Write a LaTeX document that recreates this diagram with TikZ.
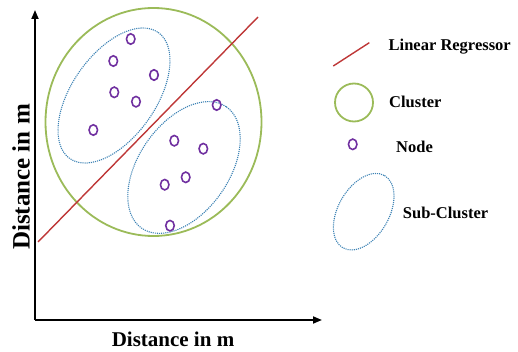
\documentclass[tikz,border=0pt]{standalone}
\usepackage{fontspec}
\setmainfont{Liberation Serif}
\usetikzlibrary{arrows.meta,shapes.geometric}
\definecolor{clgreen}{RGB}{155,187,89}
\definecolor{regred}{RGB}{190,55,55}
\definecolor{ptpurple}{RGB}{112,48,160}
\definecolor{subblue}{RGB}{60,130,180}
\tikzset{
  axis/.style={line width=1.8pt,-{Triangle[length=9pt,width=7pt]}},
  regline/.style={regred,line width=1.4pt},
  clusterc/.style={clgreen,line width=1.8pt},
  pt/.style={draw=ptpurple,ellipse,line width=1.6pt,minimum width=8.5pt,minimum height=10.5pt,inner sep=0pt},
  subc/.style={subblue,line width=1.1pt,densely dotted},
  lbl/.style={font=\bfseries\fontsize{16.5}{18}\selectfont,anchor=west,inner sep=0pt},
}
\begin{document}
\begin{tikzpicture}[x=1pt,y=-1pt]
\useasboundingbox (0,0) rectangle (518,352);
% axes
\coordinate (O) at (35,320);
\coordinate (Ytop) at (35,10);
\coordinate (Xend) at (322,320);
\draw[axis] (O) -- (Ytop);
\draw[axis] (O) -- (Xend);
\node[font=\bfseries\fontsize{21}{23}\selectfont,inner sep=0pt] (xl) at (173,339) {Distance in m};
\node[font=\bfseries\fontsize{25}{27}\selectfont,inner sep=0pt,rotate=90] (yl) at (21,177) {Distance in m};
% cluster
\draw[clusterc] (153.5,122) ellipse [x radius=108, y radius=114];
% sub-clusters
\draw[subc] (114,95.5) ellipse [x radius=77, y radius=42, rotate=55];
\draw[subc] (184,167.5) ellipse [x radius=74, y radius=45, rotate=55];
% regression line
\coordinate (r1) at (38,242);
\coordinate (r2) at (258,17);
\draw[regline] (r1) -- (r2);
% nodes
\node[pt] (p1) at (130.7,39) {};
\node[pt] (p2) at (113.3,61) {};
\node[pt] (p3) at (154,75) {};
\node[pt] (p4) at (114.3,92.3) {};
\node[pt] (p5) at (136,101.7) {};
\node[pt] (p6) at (93.3,130) {};
\node[pt] (q1) at (216.7,105) {};
\node[pt] (q2) at (174.3,140.7) {};
\node[pt] (q3) at (203.3,148.7) {};
\node[pt] (q4) at (185.7,177.3) {};
\node[pt] (q5) at (164.7,184.7) {};
\node[pt] (q6) at (170,225.7) {};
% legend
\coordinate (l1) at (333.3,66);
\coordinate (l2) at (369.3,42.7);
\draw[regline] (l1) -- (l2);
\node[lbl] (t1) at (388.5,46.5) {Linear Regressor};
\draw[clusterc] (354,102.5) circle [radius=19];
\node[lbl] (t2) at (389,101.5) {Cluster};
\node[pt] (lp) at (352.7,144.3) {};
\node[lbl] (t3) at (396,146.5) {Node};
\draw[subc] (363.7,211.7) ellipse [x radius=41.7, y radius=25.4, rotate=60];
\node[lbl] (t4) at (402.7,213.3) {Sub-Cluster};
\end{tikzpicture}
\end{document}
